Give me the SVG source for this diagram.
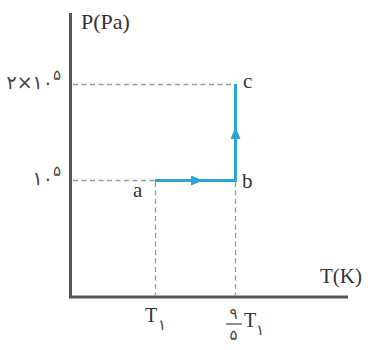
<svg xmlns="http://www.w3.org/2000/svg" width="368" height="350" viewBox="0 0 368 350">
<defs>
<style>
.axis{stroke:#555;stroke-width:3;fill:none}
.dash{stroke:#9a9a9a;stroke-width:1.3;stroke-dasharray:5 3.5;fill:none}
.proc{stroke:#2aa5d8;stroke-width:3;fill:none}
.lbl{font-family:"Liberation Serif","Times New Roman",serif;fill:#333}
.fa{font-family:"DejaVu Sans","Liberation Serif",sans-serif;fill:#444}
</style>
<marker id="arr" viewBox="0 0 12 10" refX="12" refY="5" markerWidth="12" markerHeight="10" markerUnits="userSpaceOnUse" orient="auto">
<path d="M0,0 L12,5 L0,10 Z" fill="#2aa5d8"/>
</marker>
</defs>
<rect width="368" height="350" fill="#fff"/>
<g id="axes">
<path class="axis" d="M70.5,13 V297 H348"/>
<text class="lbl" x="81" y="29" font-size="22">P(Pa)</text>
<text class="lbl" x="320" y="283" font-size="21">T(K)</text>
</g>
<g id="guides">
<path class="dash" d="M73,84.5 H235"/>
<path class="dash" d="M73,180.5 H155"/>
<path class="dash" d="M155.5,182 V296"/>
<path class="dash" d="M235.5,182 V296"/>
</g>
<g id="ticks">
<text class="fa" x="53" y="89" font-size="19" letter-spacing="1.5" text-anchor="end">۲×۱۰</text>
<text class="fa" x="53" y="80" font-size="15">۵</text>
<text class="fa" x="53" y="185" font-size="19" letter-spacing="1.5" text-anchor="end">۱۰</text>
<text class="fa" x="53" y="176" font-size="15">۵</text>
<text class="lbl" x="145" y="322" font-size="20">T</text>
<text class="fa" x="158" y="330" font-size="15">۱</text>
<text class="fa" x="233.5" y="319" font-size="15" text-anchor="middle">۹</text>
<path d="M226,324 H242" stroke="#444" stroke-width="1.2"/>
<text class="fa" x="233.5" y="340" font-size="15" text-anchor="middle">۵</text>
<text class="lbl" x="244" y="327" font-size="20">T</text>
<text class="fa" x="256" y="335" font-size="15">۱</text>
</g>
<g id="connectors">
<path class="proc" d="M155,180.5 H235.5 V84"/>
<path d="M186,180.5 H203" stroke="none" marker-end="url(#arr)"/>
<path d="M235.5,150 V127" stroke="none" marker-end="url(#arr)"/>
</g>
<g id="node-a">
<text class="lbl" x="133" y="197" font-size="21">a</text>
</g>
<g id="node-b">
<text class="lbl" x="242" y="188" font-size="21">b</text>
</g>
<g id="node-c">
<text class="lbl" x="243" y="88" font-size="21">c</text>
</g>
</svg>
